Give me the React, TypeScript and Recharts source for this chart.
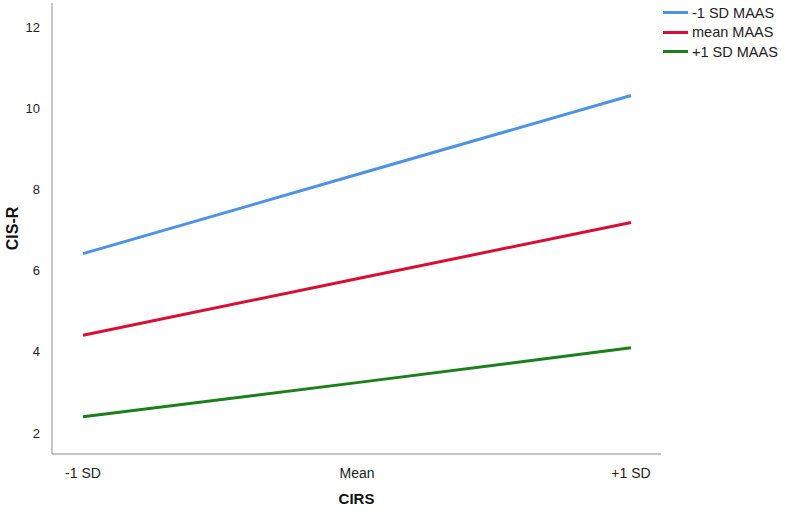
import { LineChart, Line, XAxis, YAxis } from "recharts";

const categories = ["-1 SD", "Mean", "+1 SD"];
const lowMaas = [6.42, 8.37, 10.32];
const meanMaas = [4.41, 5.8, 7.19];
const highMaas = [2.4, 3.24, 4.1];
const yTicks = [2, 4, 6, 8, 10, 12];

const series = [
  { key: "low", name: "-1 SD MAAS", color: "#4C93E6" },
  { key: "mean", name: "mean MAAS", color: "#D80F34" },
  { key: "high", name: "+1 SD MAAS", color: "#1C7F1C" },
];

const data = categories.map((cat, i) => ({
  cat,
  low: lowMaas[i],
  mean: meanMaas[i],
  high: highMaas[i],
}));

const font = "'Liberation Sans', Arial, sans-serif";

// legend drawn outside the chart so it doesn't eat plot width
const LegendBox = () => (
  <div style={{ position: "absolute", left: 663, top: 3, fontFamily: font, fontSize: 14.5, color: "#222" }}>
    {series.map((s) => (
      <div key={s.key} style={{ display: "flex", alignItems: "center", height: 19.5, whiteSpace: "nowrap" }}>
        <span style={{ display: "inline-block", width: 25, height: 3, background: s.color, marginRight: 4 }} />
        {s.name}
      </div>
    ))}
  </div>
);

const App = () => {
  return (
    <div style={{ position: "absolute", left: 0, top: 0, width: 785, height: 515 }}>
      <LineChart width={785} height={515} data={data} margin={{ top: 3, right: 124, bottom: 0, left: 0 }}>
        <XAxis
          dataKey="cat"
          height={61}
          padding={{ left: 31, right: 30 }}
          tickLine={false}
          stroke="#8a8a8a"
          tick={{ fill: "#222", fontSize: 14, fontFamily: font }}
          tickMargin={8}
          label={{ value: "CIRS", position: "insideBottom", offset: 11, style: { fontFamily: font, fontSize: 15, fontWeight: "bold", fill: "#111" } }}
        />
        <YAxis
          width={52}
          domain={[1.48, 12.6]}
          ticks={yTicks}
          allowDataOverflow
          tickLine={false}
          stroke="#8a8a8a"
          tick={{ fill: "#222", fontSize: 13, fontFamily: font }}
          tickMargin={6}
          label={{ value: "CIS-R", angle: -90, position: "insideLeft", offset: 12, style: { textAnchor: "middle", fontFamily: font, fontSize: 16, fontWeight: "bold", fill: "#111" } }}
        />
        {series.map((s) => (
          <Line
            key={s.key}
            type="linear"
            dataKey={s.key}
            name={s.name}
            stroke={s.color}
            strokeWidth={3}
            dot={false}
            activeDot={false}
            isAnimationActive={false}
          />
        ))}
      </LineChart>
      <LegendBox />
    </div>
  );
};

export default App;
